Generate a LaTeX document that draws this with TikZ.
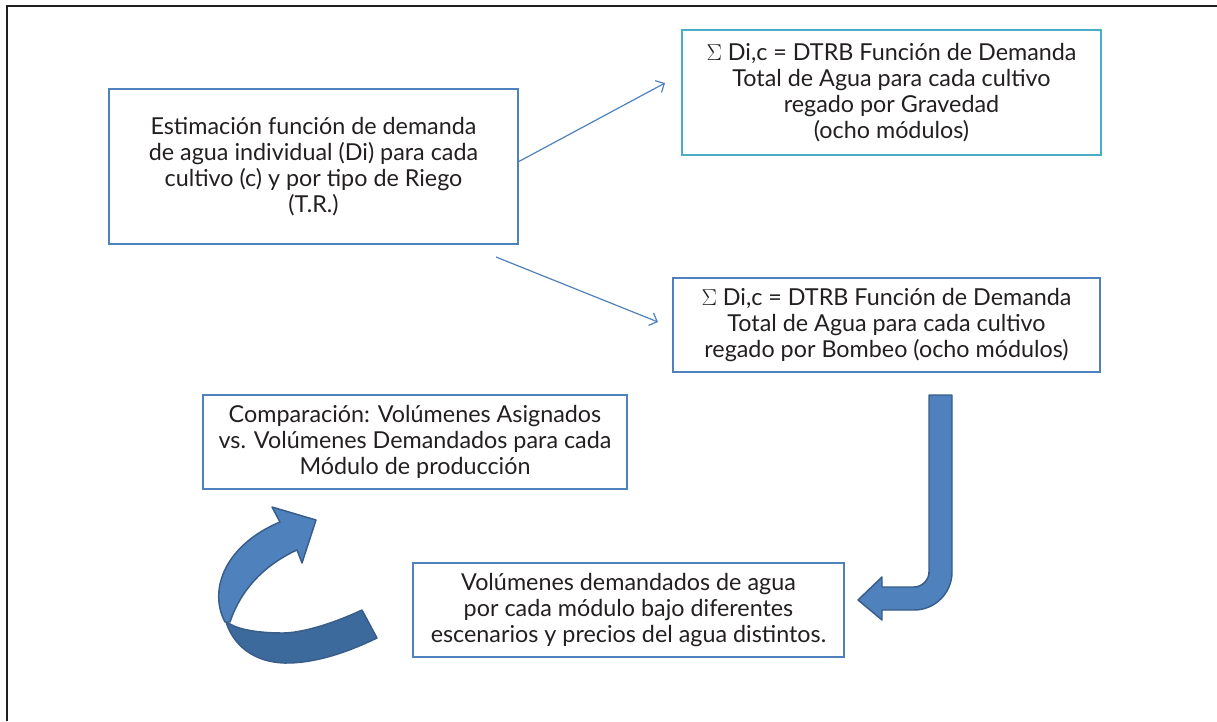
\documentclass[tikz,border=0pt]{standalone}
\usepackage{fontspec}
\setmainfont{Lato}
\usetikzlibrary{positioning,calc,arrows.meta}
\definecolor{boxblue}{HTML}{4F81BD}
\definecolor{boxteal}{HTML}{4BACC6}
\definecolor{arrowedge}{HTML}{385D8A}
\definecolor{arrowdark}{HTML}{3D6A9C}
\definecolor{inkgray}{HTML}{231F20}

\begin{document}
\begin{tikzpicture}[x=0.75pt,y=-0.75pt,
				every node/.style={block},
				block/.style={draw=boxblue,line width=2pt,rectangle,align=center,text=inkgray,
					font=\fontsize{17.5}{19.5}\selectfont,inner sep=0pt,outer sep=0pt},
				link/.style={draw=boxblue,line width=0.9pt,-{Straight Barb[length=5pt,width=10pt]}},
				bigarrow/.style={fill=boxblue,draw=arrowedge,line width=1.1pt,line join=round}]
				\useasboundingbox (0,0) rectangle (1217,721);
				\draw[inkgray,line width=2.2pt] (1217,6) -- (7,6) -- (7,721);

				\node (EST)  [minimum width=306.75pt,minimum height=116.25pt] at (313.5,166.5)
					{Estimación función de demanda\\de agua individual (Di) para cada\\cultivo (c) y por tipo de Riego\\(T.R.)};
				\node (GRAV) [draw=boxteal,minimum width=314.25pt,minimum height=93.75pt] at (891.5,92.5)
					{$\Sigma$ Di,c = DTRB Función de Demanda\\Total de Agua para cada cultivo\\regado por Gravedad\\(ocho módulos)};
				\node (BOMB) [minimum width=320.25pt,minimum height=70.5pt] at (886.5,325)
					{$\Sigma$ Di,c = DTRB Función de Demanda\\Total de Agua para cada cultivo\\regado por Bombeo (ocho módulos)};
				\node (COMP) [minimum width=318pt,minimum height=70.5pt] at (415,442)
					{Comparación: Volúmenes Asignados\\vs. Volúmenes Demandados para cada\\Módulo de producción};
				\node (VOL)  [minimum width=323.25pt,minimum height=70.5pt] at (628.5,610)
					{Volúmenes demandados de agua\\por cada módulo bajo diferentes\\escenarios y precios del agua distintos.};

				\draw[link] ([yshift=3.4pt]EST.east) -- ([xshift=-12.75pt,yshift=7.1pt]GRAV.west);
				\draw[link] ([xshift=-16.5pt,yshift=-9.75pt]EST.south east) -- ([xshift=-11.25pt,yshift=2.25pt]BOMB.west);

				% bent arrow from BOMB down to VOL
				\draw[bigarrow] (929,395) -- (952,395) -- (952,572) .. controls (952,593) and (935,610) .. (914,610)
					-- (882,610) -- (882,620) -- (858,600) -- (882,577) -- (882,587) -- (914,587)
					.. controls (922,587) and (929,580) .. (929,572) -- cycle;

				% curved arrow from VOL back up to COMP
				\draw[bigarrow,fill=arrowdark] (226,622) .. controls (235,650) and (260,664) .. (290,663)
					.. controls (320,662) and (350,651) .. (377,638) -- (362,610)
					.. controls (330,625) and (300,633) .. (283,633) .. controls (260,633) and (240,630) .. (230,624) -- cycle;
				\draw[bigarrow] (225,622) .. controls (208,590) and (225,545) .. (280,522) -- (272,507) -- (316,520)
					-- (302,563) -- (297,550) .. controls (262,566) and (240,592) .. (230,622) -- cycle;
			\end{tikzpicture}
\end{document}
